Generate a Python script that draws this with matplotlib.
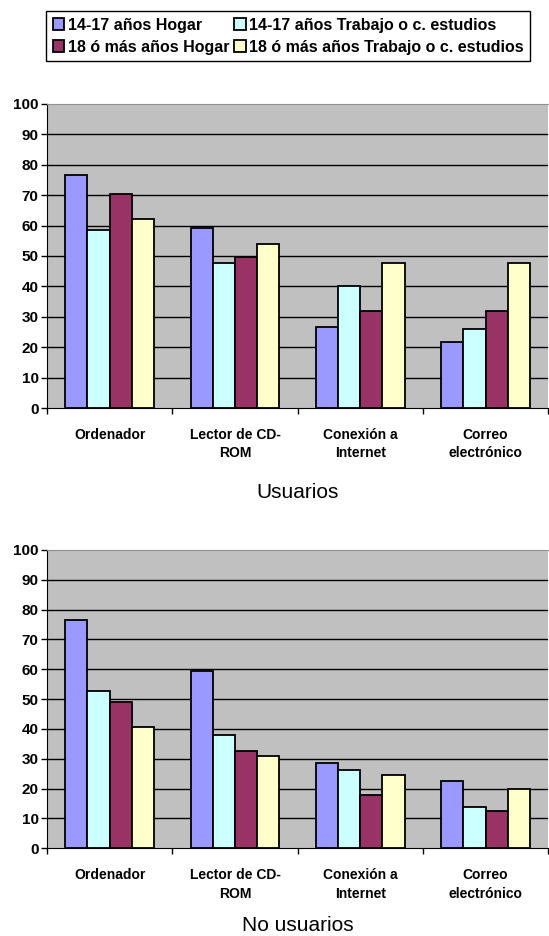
import matplotlib
matplotlib.use("Agg")
import matplotlib.pyplot as plt
import numpy as np

plt.rcParams['font.family'] = ['Liberation Sans', 'DejaVu Sans']

categories = ["Ordenador", "Lector de CD-\nROM", "Conexión a\nInternet", "Correo\nelectrónico"]
series_names = ["14-17 años Hogar", "14-17 años Trabajo o c. estudios",
                "18 ó más años Hogar", "18 ó más años Trabajo o c. estudios"]
colors = ["#9999FF", "#CCFFFF", "#993366", "#FFFFCC"]

usuarios = [
    [76.5, 59.1, 26.8, 21.7],
    [58.4, 47.8, 40.0, 25.9],
    [70.3, 49.7, 32.0, 32.0],
    [62.0, 53.8, 47.8, 47.8],
]
no_usuarios = [
    [76.5, 59.3, 28.7, 22.7],
    [52.6, 38.1, 26.2, 13.7],
    [49.0, 32.5, 17.9, 12.6],
    [40.7, 31.1, 24.7, 19.9],
]
yticks = [0, 10, 20, 30, 40, 50, 60, 70, 80, 90, 100]

fig = plt.figure(figsize=(5.49, 9.36), dpi=100)
ax1 = fig.add_axes([0.0856, 0.564, 0.913, 0.325])
ax2 = fig.add_axes([0.0856, 0.0937, 0.913, 0.3187])

bw = 0.177
x = np.arange(len(categories))
handles = []
for ax, data, title in [(ax1, usuarios, "Usuarios"), (ax2, no_usuarios, "No usuarios")]:
    ax.set_facecolor("#C0C0C0")
    ax.set_axisbelow(True)
    for i, vals in enumerate(data):
        b = ax.bar(x + (i - 1.5) * bw, vals, width=bw, color=colors[i],
                   edgecolor="black", linewidth=1.3, label=series_names[i], zorder=3)
        if ax is ax1:
            handles.append(b)
    ax.set_xlim(-0.5, len(categories) - 0.5)
    ax.set_ylim(0, 100)
    ax.set_yticks(yticks)
    ax.set_yticklabels([str(t) for t in yticks], fontsize=11, fontweight="bold")
    ax.yaxis.grid(True, color="black", linewidth=1.0)
    gl = ax.get_ygridlines()
    gl[0].set_visible(False)
    gl[-1].set_visible(False)
    ax.set_xticks(np.arange(-0.5, len(categories)), minor=False)
    ax.set_xticklabels([])
    ax.set_xticks(x, minor=True)
    ax.set_xticklabels(categories, minor=True, fontsize=10, fontweight="bold",
                       linespacing=1.45)
    ax.tick_params(axis="x", which="major", length=4, width=1, direction="out")
    ax.tick_params(axis="x", which="minor", length=0, pad=14)
    ax.tick_params(axis="y", length=4, width=1, direction="out", pad=2)
    ax.spines["top"].set_color("#909090")
    ax.spines["right"].set_visible(False)
    ax.spines["left"].set_color("black")
    ax.spines["bottom"].set_color("black")
    ax.set_xlabel(title, fontsize=15, labelpad=16 if ax is ax1 else 11)

order = [0, 2, 1, 3]
fig.legend(handles=[handles[k] for k in order], labels=[series_names[k] for k in order],
           loc="upper left", bbox_to_anchor=(0.084, 0.988), ncol=2, frameon=True,
           fancybox=False, edgecolor="black", framealpha=1,
           prop={"size": 11.5, "weight": "bold"},
           handlelength=0.75, handleheight=0.75, handletextpad=0.2, columnspacing=0.3,
           labelspacing=0.45, borderpad=0.4, borderaxespad=0)

fig.savefig("out.png", dpi=100)
